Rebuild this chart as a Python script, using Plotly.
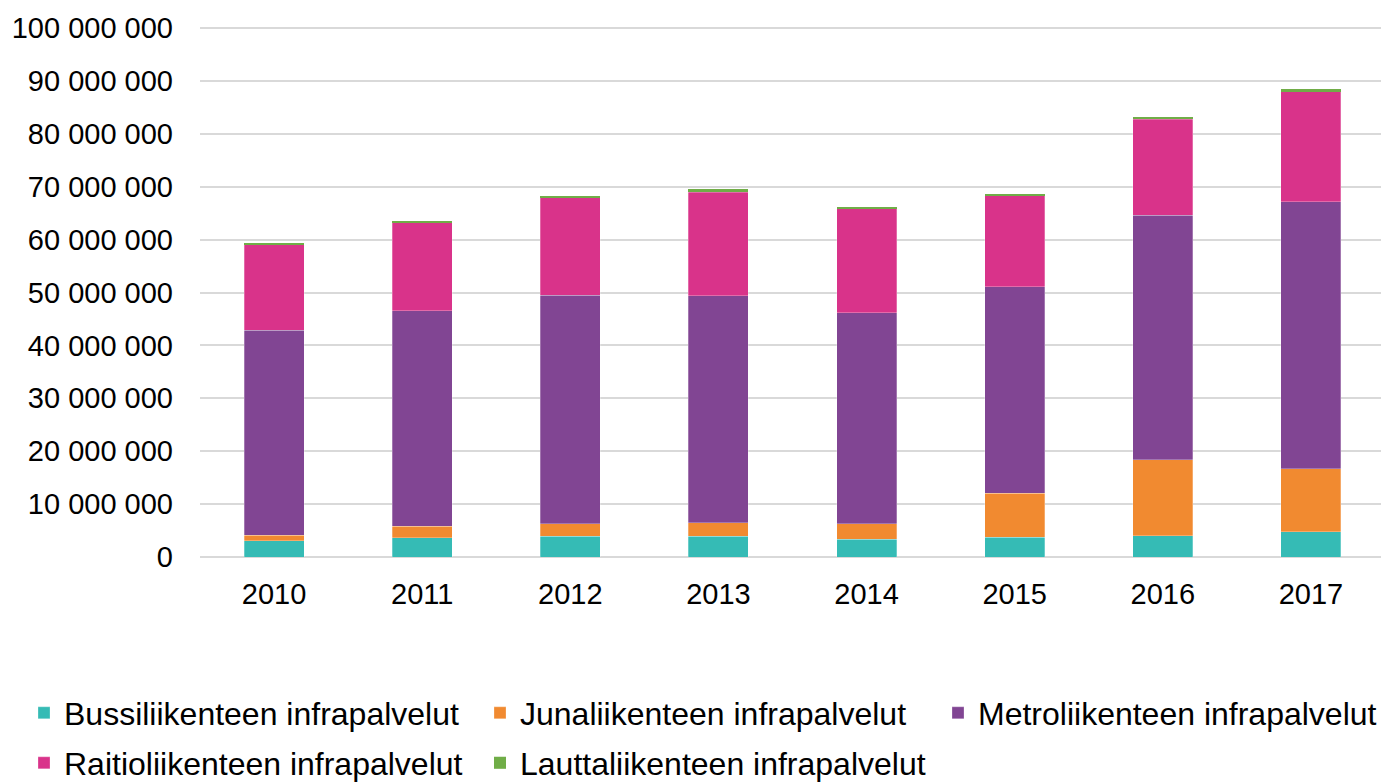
import plotly.graph_objects as go

years = ["2010", "2011", "2012", "2013", "2014", "2015", "2016", "2017"]
bussi = [3.06e6, 3.6e6, 3.9e6, 3.9e6, 3.4e6, 3.76e6, 4.0e6, 4.8e6]
juna = [1.05e6, 2.2e6, 2.4e6, 2.55e6, 2.9e6, 8.25e6, 14.4e6, 11.9e6]
metro = [38.8e6, 40.8e6, 43.2e6, 42.95e6, 39.9e6, 39.1e6, 46.2e6, 50.5e6]
raitio = [16.1e6, 16.6e6, 18.4e6, 19.6e6, 19.6e6, 17.3e6, 18.2e6, 20.8e6]
lautta = [0.25e6, 0.2e6, 0.3e6, 0.5e6, 0.3e6, 0.25e6, 0.45e6, 0.45e6]

names = [
    "Bussiliikenteen infrapalvelut",
    "Junaliikenteen infrapalvelut",
    "Metroliikenteen infrapalvelut",
    "Raitioliikenteen infrapalvelut",
    "Lauttaliikenteen infrapalvelut",
]
values = [bussi, juna, metro, raitio, lautta]
colors = ["#35bbb5", "#f18a30", "#814593", "#d9338a", "#70ad47"]
outline = [0.6, 0.6, 0.6, 0.6, 0]
legend_ids = ["legend", "legend2", "legend3", "legend4", "legend5"]

# page body has an 8px margin; figure sized to fill the rest of the window
W, H = 1381, 775
OFF = 8

fig = go.Figure()
for name, vals, color, lw, lg in zip(names, values, colors, outline, legend_ids):
    fig.add_trace(go.Bar(
        x=years, y=vals, name=name, legend=lg,
        marker=dict(color=color, line=dict(color="rgba(255,255,255,0.45)", width=lw)),
    ))

font = "Liberation Sans, Arial, sans-serif"


def legend_at(px_x, px_y):
    # px_x: left of legend box, px_y: centre of row, both in window pixels
    return dict(
        orientation="h", xref="container", yref="container",
        xanchor="left", yanchor="middle",
        x=(px_x - OFF) / W, y=1 - (px_y - OFF) / H,
        font=dict(family=font, size=32, color="#000000"),
        bgcolor="rgba(0,0,0,0)", borderwidth=0,
    )


fig.update_layout(
    width=W, height=H,
    margin=dict(l=193 - OFF, r=4, t=16, b=226),
    barmode="stack", bargap=0.595,
    plot_bgcolor="white", paper_bgcolor="white",
    separators=", ",
    font=dict(family=font, size=29, color="#000000"),
    showlegend=True,
    legend=legend_at(24, 713),
    legend2=legend_at(480, 713),
    legend3=legend_at(938, 713),
    legend4=legend_at(24, 763),
    legend5=legend_at(480, 763),
    xaxis=dict(
        showgrid=False, showline=False, zeroline=False,
        ticks="", ticklabelstandoff=17,
        tickfont=dict(family=font, size=29, color="#000000"),
    ),
    yaxis=dict(
        range=[0, 100.4e6], tick0=0, dtick=10e6, tickformat=",d",
        showgrid=True, gridcolor="#d9d9d9", gridwidth=1.5,
        zeroline=True, zerolinecolor="#d9d9d9", zerolinewidth=2,
        showline=False, ticks="", ticklabelstandoff=26,
        tickfont=dict(family=font, size=29, color="#000000"),
    ),
)

fig.write_html("out.html")
